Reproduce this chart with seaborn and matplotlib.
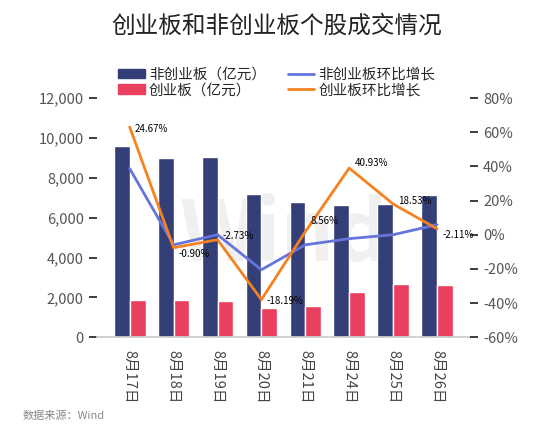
import numpy as np
import pandas as pd
import matplotlib.pyplot as plt
import seaborn as sns

dates = ["8月17日", "8月18日", "8月19日", "8月20日", "8月21日", "8月24日", "8月25日", "8月26日"]
non_gem = [9590, 8990, 9040, 7180, 6780, 6630, 6680, 7130]
gem = [1860, 1860, 1810, 1460, 1560, 2260, 2660, 2610]
non_gem_growth = [38.7, -5.9, 0.0, -20.5, -5.9, -2.3, 0.0, 5.9]
gem_growth = [63.0, -7.6, -2.9, -38.0, 1.8, 39.0, 18.0, 3.5]
labels = ["24.67%", "-0.90%", "-2.73%", "-18.19%", "8.56%", "40.93%", "18.53%", "-2.11%"]
label_y = [62, -11, -1, -39, 8, 42, 20, 0]

sns.set_theme(style="white")
plt.rcParams["font.family"] = ["Noto Sans CJK SC", "DejaVu Sans"]

NAVY = "#353F77"
PINK = "#E8405E"
BLUE = "#6674DB"
ORANGE = "#F58220"

df = pd.DataFrame({"date": dates * 2,
                   "value": non_gem + gem,
                   "kind": ["非创业板（亿元）"] * 8 + ["创业板（亿元）"] * 8})

fig = plt.figure(figsize=(5.54, 4.34), dpi=100)
ax = fig.add_axes([0.175, 0.223, 0.673, 0.551])
sns.barplot(data=df, x="date", y="value", hue="kind", palette=[NAVY, PINK],
            width=0.72, gap=0.0, saturation=1, ax=ax, legend=False)
ax.set_ylim(0, 12000)
ax.set_yticks(range(0, 12001, 2000))
ax.set_yticklabels([f"{v:,}" for v in range(0, 12001, 2000)], color="#555555", fontsize=10.5)
ax.set_xlabel("")
ax.set_ylabel("")
ax.tick_params(axis="x", rotation=-90, labelsize=10.5, colors="#444444")
for s in ["top", "right", "left"]:
    ax.spines[s].set_visible(False)
ax.spines["bottom"].set_color("#cccccc")
ax.text(0.5, 0.42, "Wind", transform=ax.transAxes, fontsize=60, color="#f0f0f0",
        ha="center", va="center", fontweight="bold", zorder=0)

ax2 = ax.twinx()
x = np.arange(len(dates))
ax2.plot(x, non_gem_growth, color=BLUE, lw=2)
ax2.plot(x, gem_growth, color=ORANGE, lw=2)
ax2.set_ylim(-60, 80)
ax2.set_yticks(range(-60, 81, 20))
ax2.set_yticklabels([f"{v}%" for v in range(-60, 81, 20)], color="#555555", fontsize=10.5)
for s in ["top", "right", "left", "bottom"]:
    ax2.spines[s].set_visible(False)
for xi, yi, t in zip(x, label_y, labels):
    ax2.text(xi + 0.12, yi, t, fontsize=7, ha="left", va="center", color="black")

handles = [plt.Rectangle((0, 0), 1, 1, color=NAVY), plt.Rectangle((0, 0), 1, 1, color=PINK),
           plt.Line2D([], [], color=BLUE, lw=2), plt.Line2D([], [], color=ORANGE, lw=2)]
fig.legend(handles, ["非创业板（亿元）", "创业板（亿元）", "非创业板环比增长", "创业板环比增长"],
           ncol=2, loc="center", bbox_to_anchor=(0.5, 0.81), frameon=False, fontsize=10.5,
           handlelength=1.8, handleheight=0.6, handletextpad=0.3, columnspacing=1.5,
           labelspacing=0.1)

fig.text(0.5, 0.94, "创业板和非创业板个股成交情况", ha="center", va="center", fontsize=17, color="#222222")
fig.text(0.04, 0.035, "数据来源：Wind", fontsize=8, color="#888888")
fig.savefig("out.png", dpi=100)
